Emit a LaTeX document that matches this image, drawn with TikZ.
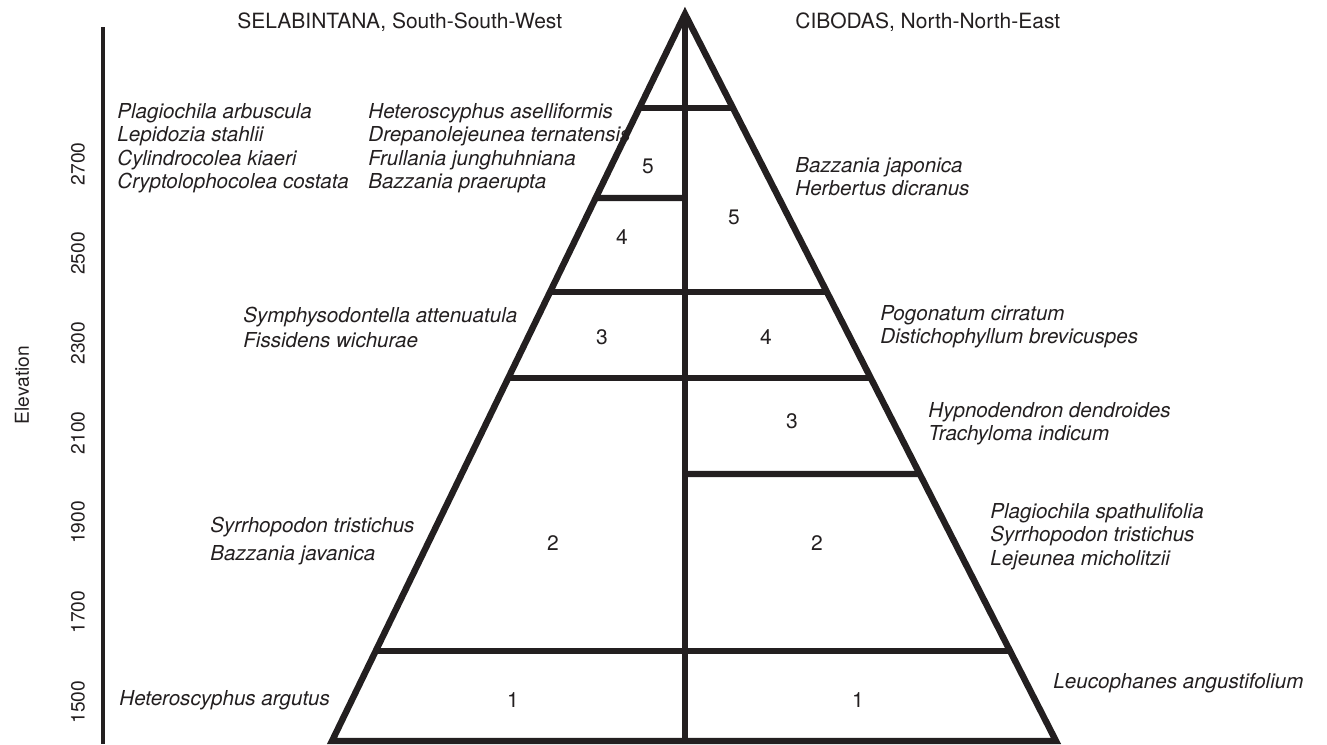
\documentclass[tikz,border=0pt]{standalone}
\usepackage{fontspec}
\setmainfont{TeX Gyre Heros}
\usepackage{xcolor}
\usepackage{tikz}
\usetikzlibrary{calc}

\definecolor{ink}{HTML}{231F20}

\tikzset{
    tier/.style={line width=3.2pt, draw=ink},
    taxa/.style={anchor=north west, inner sep=0pt, align=left, text=ink,
                 font=\itshape\fontsize{10.3}{11.7}\selectfont},
    taxon/.style={anchor=base west, inner sep=0pt, text=ink,
                  font=\itshape\fontsize{10.3}{11.7}\selectfont},
    zone/.style={inner sep=0pt, text=ink, font=\fontsize{10.5}{12}\selectfont},
    tick/.style={inner sep=0pt, text=ink, font=\fontsize{9.6}{11}\selectfont},
    slope/.style={anchor=base west, inner sep=0pt, text=ink, font=\fontsize{10.5}{12}\selectfont}
}

\begin{document}
\begin{tikzpicture}[x=0.5pt, y=-0.5pt]
            \useasboundingbox (0,0) rectangle (1327,744);
            % pyramid
            \coordinate (apex) at (685,14);
            \coordinate (bl) at (332,741);
            \coordinate (br) at (1056,741);
            \coordinate (base) at (685,741);
            \draw[tier] (bl) -- (apex) -- (br) -- cycle;
            \draw[tier] (apex) -- (base);
            \foreach \h in {108,292,378,651}
                \draw[tier] ($(apex)!{(\h-14)/727}!(bl)$) -- ($(apex)!{(\h-14)/727}!(br)$);
            \draw[tier] ($(apex)!{(198-14)/727}!(bl)$) -- (685,198);
            \draw[tier] (685,474) -- ($(apex)!{(474-14)/727}!(br)$);
            % elevation axis
            \draw[line width=1.6pt, ink] (103,27) -- (103,744);
            \foreach \v [count=\i from 0] in {1500,1700,...,2700}
                \node[tick, rotate=90] (elev\v) at (78, 702-89.7*\i) {\v};
            \node[tick, rotate=90] (elevation) at (22,385) {Elevation};
            % slopes
            \node[slope] (sela) at (237,28) {SELABINTANA, South-South-West};
            \node[slope] (ciba) at (795,28) {CIBODAS, North-North-East};
            % zone numbers
            \node[zone] (l5) at (648,166) {5};
            \node[zone] (l4) at (622,237) {4};
            \node[zone] (l3) at (602,337) {3};
            \node[zone] (l2) at (553,543) {2};
            \node[zone] (l1) at (513,700) {1};
            \node[zone] (r5) at (734,217) {5};
            \node[zone] (r4) at (766,337) {4};
            \node[zone] (r3) at (792,421) {3};
            \node[zone] (r2) at (817,543) {2};
            \node[zone] (r1) at (858,700) {1};
            % species, south-south-west
            \node[taxa] (swtop) at (117,103) {Plagiochila arbuscula\\Lepidozia stahlii\\Cylindrocolea kiaeri\\Cryptolophocolea costata};
            \node[taxa] (swfive) at (368,103) {Heteroscyphus aselliformis\\Drepanolejeunea ternatensis\\Frullania junghuhniana\\Bazzania praerupta};
            \node[taxa] (swthree) at (243,307) {Symphysodontella attenuatula\\[0.6pt]Fissidens wichurae};
            \node[taxa] (swtwo) at (210,517) {Syrrhopodon tristichus\\[2.3pt]Bazzania javanica};
            \node[taxon] (swone) at (119,705) {Heteroscyphus argutus};
            % species, north-north-east
            \node[taxa] (nefive) at (795,157) {Bazzania japonica\\Herbertus dicranus};
            \node[taxa] (nefour) at (880,305) {Pogonatum cirratum\\Distichophyllum brevicuspes};
            \node[taxa] (nethree) at (928,402) {Hypnodendron dendroides\\Trachyloma indicum};
            \node[taxa] (netwo) at (990,503) {Plagiochila spathulifolia\\Syrrhopodon tristichus\\Lejeunea micholitzii};
            \node[taxon] (neone) at (1053,688) {Leucophanes angustifolium};
        \end{tikzpicture}
\end{document}
